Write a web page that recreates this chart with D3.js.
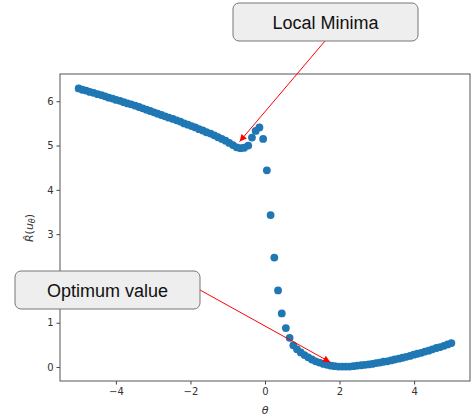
<!DOCTYPE html>
<html>
<head>
<meta charset="utf-8">
<script src="https://cdn.jsdelivr.net/npm/d3@7"></script>
<style>
  body { margin: 0; background: #fff; }
  .axis text { font-family: "DejaVu Sans", sans-serif; font-size: 10px; fill: #333; }
  .axis line { stroke: #444; }
  .note text { font-family: "Liberation Sans", Arial, sans-serif; font-size: 18px; fill: #111; }
</style>
</head>
<body>
<div id="graph"></div>
<script>
// sample grid (theta) and estimated risk values
const theta = [
  -5.00, -4.90, -4.80, -4.70, -4.60, -4.49, -4.39, -4.29, -4.19, -4.09,
  -3.99, -3.89, -3.79, -3.69, -3.59, -3.48, -3.38, -3.28, -3.18, -3.08,
  -2.98, -2.88, -2.78, -2.68, -2.58, -2.47, -2.37, -2.27, -2.17, -2.07,
  -1.97, -1.87, -1.77, -1.67, -1.57, -1.46, -1.36, -1.26, -1.16, -1.06,
  -0.96, -0.86, -0.76, -0.66, -0.56, -0.45, -0.35, -0.25, -0.15, -0.05,
   0.05,  0.15,  0.25,  0.35,  0.45,  0.56,  0.66,  0.76,  0.86,  0.96,
   1.06,  1.16,  1.26,  1.36,  1.46,  1.57,  1.67,  1.77,  1.87,  1.97,
   2.07,  2.17,  2.27,  2.37,  2.47,  2.58,  2.68,  2.78,  2.88,  2.98,
   3.08,  3.18,  3.28,  3.38,  3.48,  3.59,  3.69,  3.79,  3.89,  3.99,
   4.09,  4.19,  4.29,  4.39,  4.49,  4.60,  4.70,  4.80,  4.90,  5.00
];
const risk = [
  6.29, 6.26, 6.24, 6.21, 6.19, 6.16, 6.14, 6.11, 6.08, 6.06,
  6.03, 6.01, 5.98, 5.95, 5.93, 5.90, 5.87, 5.84, 5.81, 5.78,
  5.75, 5.72, 5.69, 5.66, 5.63, 5.60, 5.57, 5.54, 5.50, 5.47,
  5.44, 5.41, 5.37, 5.34, 5.30, 5.27, 5.23, 5.19, 5.15, 5.11,
  5.06, 5.01, 4.96, 4.94, 4.95, 5.00, 5.18, 5.33, 5.41, 5.15,
  4.44, 3.43, 2.47, 1.73, 1.21, 0.88, 0.66, 0.49, 0.40, 0.33,
  0.27, 0.22, 0.17, 0.13, 0.10, 0.07, 0.05, 0.03, 0.02, 0.01,
  0.01, 0.01, 0.01, 0.02, 0.03, 0.04, 0.05, 0.06, 0.07, 0.09,
  0.10, 0.12, 0.13, 0.15, 0.17, 0.19, 0.21, 0.23, 0.25, 0.28,
  0.30, 0.32, 0.35, 0.37, 0.40, 0.43, 0.45, 0.48, 0.51, 0.54
];
const xTicks = [-4, -2, 0, 2, 4];
const yTicks = [0, 1, 2, 3, 4, 5, 6];

// annotations: label text and the data point the arrow points at
const noteLabels = ["Local Minima", "Optimum value"];
const noteTargets = [[-0.68, 5.09], [1.75, 0.11]];

const graph = document.getElementById('graph');
graph.innerHTML = '<svg width="476" height="419"></svg>';
const svg = d3.select('svg');

const x = d3.scaleLinear().domain([-5.5, 5.5]).range([60, 470]);
const y = d3.scaleLinear().domain([-0.315, 6.615]).range([381, 74]);

svg.append("defs").append("marker")
  .attr("id", "head")
  .attr("viewBox", "0 0 10 10")
  .attr("refX", 10).attr("refY", 5)
  .attr("markerUnits", "userSpaceOnUse")
  .attr("markerWidth", 9).attr("markerHeight", 7)
  .attr("orient", "auto")
  .append("path")
  .attr("d", "M0,0L10,5L0,10z")
  .attr("fill", "red");

// axes
svg.append("g")
  .attr("class", "axis")
  .attr("transform", "translate(0,381)")
  .call(d3.axisBottom(x).tickValues(xTicks).tickSize(3.5).tickPadding(3).tickFormat(d3.format("d")))
  .call(g => g.select(".domain").remove());

svg.append("g")
  .attr("class", "axis")
  .attr("transform", "translate(60,0)")
  .call(d3.axisLeft(y).tickValues(yTicks).tickSize(3.5).tickPadding(3).tickFormat(d3.format("d")))
  .call(g => g.select(".domain").remove());

svg.append("rect")
  .attr("x", 60).attr("y", 74)
  .attr("width", 410).attr("height", 307)
  .attr("fill", "none")
  .attr("stroke", "#555");

// axis labels
svg.append("text")
  .attr("x", 265).attr("y", 414)
  .attr("text-anchor", "middle")
  .attr("font-family", "DejaVu Sans")
  .attr("font-style", "italic")
  .attr("font-size", 11)
  .attr("fill", "#333")
  .text("θ");

const yl = svg.append("text")
  .attr("transform", "translate(33,228) rotate(-90)")
  .attr("text-anchor", "middle")
  .attr("font-family", "DejaVu Sans")
  .attr("font-size", 11)
  .attr("fill", "#333");
yl.append("tspan").attr("font-style", "italic").text("R\u0302");
yl.append("tspan").text("(");
yl.append("tspan").attr("font-style", "italic").text("u");
yl.append("tspan").attr("font-style", "italic").attr("font-size", 8).attr("dy", 2).text("θ");
yl.append("tspan").attr("dy", -2).text(")");

// points
svg.append("g")
  .selectAll("circle")
  .data(theta.map((t, i) => [t, risk[i]]))
  .enter().append("circle")
  .attr("cx", d => x(d[0]))
  .attr("cy", d => y(d[1]))
  .attr("r", 3.9)
  .attr("fill", "#1f77b4");

// annotation boxes and arrows
const boxes = [
  {x: 233, y: 3, w: 185, h: 38, from: [325, 41], base: 28.5},
  {x: 15, y: 271, w: 185, h: 38, from: [200, 290], base: 296.5}
];

const notes = svg.append("g").attr("class", "note");
boxes.forEach((b, i) => {
  notes.append("line")
    .attr("x1", b.from[0]).attr("y1", b.from[1])
    .attr("x2", x(noteTargets[i][0])).attr("y2", y(noteTargets[i][1]))
    .attr("stroke", "red")
    .attr("stroke-width", 1)
    .attr("marker-end", "url(#head)");
  notes.append("rect")
    .attr("x", b.x).attr("y", b.y)
    .attr("width", b.w).attr("height", b.h)
    .attr("rx", 6)
    .attr("fill", "#eeeeee")
    .attr("stroke", "#777");
  notes.append("text")
    .attr("x", b.x + b.w / 2).attr("y", b.base)
    .attr("text-anchor", "middle")
    .text(noteLabels[i]);
});
</script>
</body>
</html>
